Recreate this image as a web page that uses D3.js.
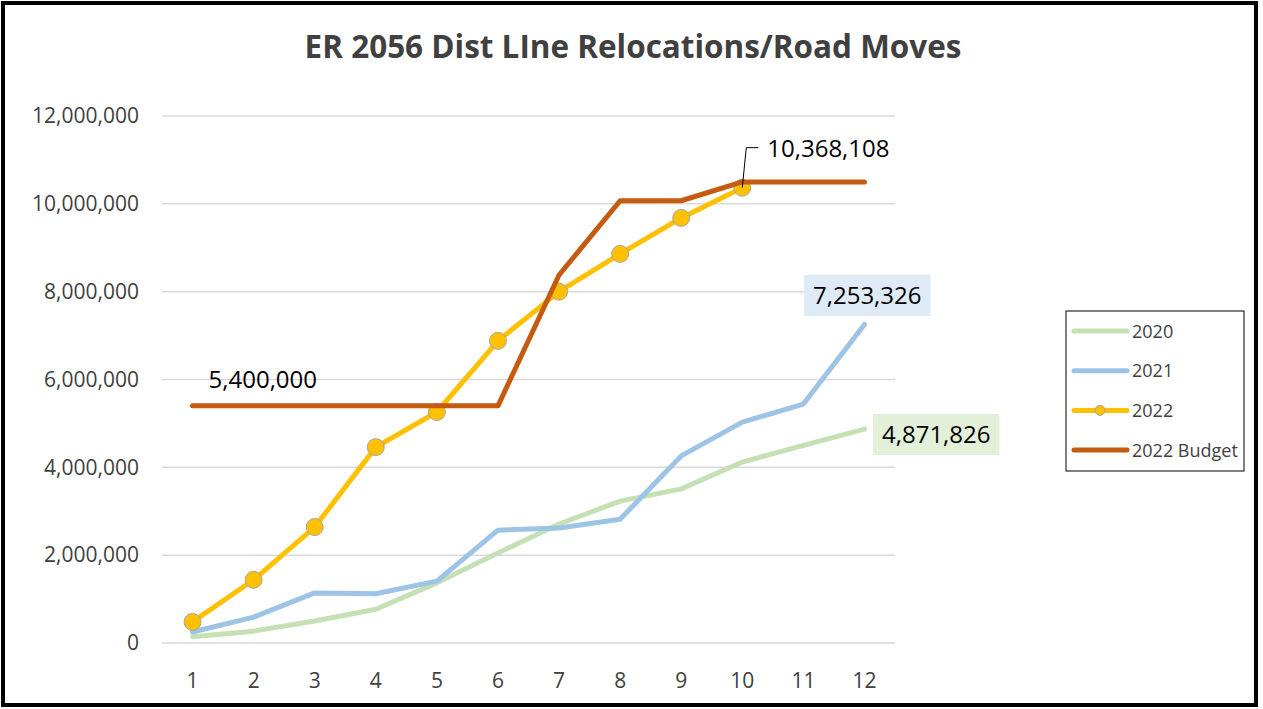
<!DOCTYPE html>
<html>
<head>
<meta charset="utf-8">
<script src="https://cdn.jsdelivr.net/npm/d3@7"></script>
<style>
  body { margin: 0; background: #fff; }
  svg { display: block; }
  text { font-family: "Open Sans", "Noto Sans", sans-serif; }
</style>
</head>
<body>
<svg width="1263" height="709"></svg>
<script>
const months = [1, 2, 3, 4, 5, 6, 7, 8, 9, 10, 11, 12];
const yTicks = [0, 2000000, 4000000, 6000000, 8000000, 10000000, 12000000];
const v2020 = [140000, 270000, 500000, 770000, 1370000, 2050000, 2710000, 3230000, 3510000, 4120000, 4500000, 4871826];
const v2021 = [250000, 590000, 1140000, 1120000, 1410000, 2570000, 2620000, 2820000, 4260000, 5030000, 5440000, 7253326];
const v2022 = [480000, 1440000, 2640000, 4460000, 5260000, 6880000, 8000000, 8860000, 9680000, 10368108];
const vBudget = [5400000, 5400000, 5400000, 5400000, 5400000, 5400000, 8380000, 10070000, 10070000, 10500000, 10500000, 10500000];
const seriesNames = ["2020", "2021", "2022", "2022 Budget"];
const colors = { "2020": "#C5E0B4", "2021": "#9DC3E6", "2022": "#FFC000", "2022 Budget": "#C55A11" };

const svg = d3.select("svg");
const fmt = d3.format(",");

// frame
svg.append("rect").attr("x", 3).attr("y", 3).attr("width", 1253).attr("height", 702)
  .attr("fill", "#fff").attr("stroke", "#000").attr("stroke-width", 4);

// title, scaled to the width it has in the picture
const title = svg.append("text").attr("x", 633).attr("y", 58).attr("text-anchor", "middle")
  .attr("font-weight", "bold").attr("font-size", 28).attr("fill", "#404040")
  .text("ER 2056 Dist LIne Relocations/Road Moves");
const tw = title.node().getComputedTextLength();
title.attr("font-size", 28 * 657 / tw);

const xScale = d3.scaleBand().domain(months).range([162, 895]);
const yScale = d3.scaleLinear().domain([0, 12000000]).range([643, 116]);
const cx = d => xScale(d) + xScale.bandwidth() / 2;

// gridlines
svg.append("g").selectAll("line").data(yTicks).join("line")
  .attr("x1", 162).attr("x2", 895)
  .attr("y1", d => yScale(d)).attr("y2", d => yScale(d))
  .attr("stroke", "#D9D9D9").attr("stroke-width", 1.5);

// y axis
const yAxis = svg.append("g").attr("transform", "translate(139,0)")
  .call(d3.axisLeft(yScale).tickValues(yTicks).tickFormat(fmt).tickSize(0).tickPadding(0));
yAxis.select(".domain").remove();
yAxis.selectAll("text").attr("font-size", 21).attr("fill", "#404040")
  .attr("font-family", "'Open Sans', sans-serif");

// x axis
const xAxis = svg.append("g").attr("transform", "translate(0,669)")
  .call(d3.axisBottom(xScale).tickSize(0).tickPadding(0));
xAxis.select(".domain").remove();
xAxis.selectAll("text").attr("font-size", 21).attr("fill", "#404040").attr("dy", "0.9em")
  .attr("font-family", "'Open Sans', sans-serif");

const line = d3.line().x((d, i) => cx(months[i])).y(d => yScale(d));

const drawLine = (vals, name) => {
  svg.append("path").datum(vals).attr("d", line)
    .attr("fill", "none").attr("stroke", colors[name]).attr("stroke-width", 5)
    .attr("stroke-linejoin", "round").attr("stroke-linecap", "round");
};

drawLine(v2020, "2020");
drawLine(v2021, "2021");
drawLine(v2022, "2022");
svg.append("g").selectAll("circle").data(v2022).join("circle")
  .attr("cx", (d, i) => cx(months[i])).attr("cy", d => yScale(d)).attr("r", 8.5)
  .attr("fill", "#FFC000").attr("stroke", "#A5A5A5").attr("stroke-width", 1);
drawLine(vBudget, "2022 Budget");

// data labels
svg.append("text").attr("x", cx(1) + 16).attr("y", yScale(5400000) - 18)
  .attr("font-size", 24).attr("fill", "#000").text(fmt(5400000));

const last22 = v2022[v2022.length - 1];
const lx = cx(10), ly = yScale(last22);
svg.append("path").attr("d", `M${lx},${ly} L${lx + 4},${ly - 40} L${lx + 16},${ly - 40}`)
  .attr("fill", "none").attr("stroke", "#000").attr("stroke-width", 1);
svg.append("text").attr("x", lx + 25).attr("y", ly - 31)
  .attr("font-size", 24).attr("fill", "#000").text(fmt(last22));

const boxLabel = (val, x, y, bg) => {
  const g = svg.append("g");
  const t = g.append("text").attr("x", x + 9).attr("y", y + 29)
    .attr("font-size", 24).attr("fill", "#000").text(fmt(val));
  const w = t.node().getComputedTextLength();
  g.insert("rect", "text").attr("x", x).attr("y", y).attr("width", w + 18).attr("height", 41).attr("fill", bg);
};
boxLabel(v2021[11], 804, 275, "#DEEBF7");
boxLabel(v2020[11], 873, 414, "#E2F0D9");

// legend
const legend = svg.append("g");
legend.append("rect").attr("x", 1066).attr("y", 311).attr("width", 178).attr("height", 160)
  .attr("fill", "#fff").attr("stroke", "#000").attr("stroke-width", 1);
const items = legend.selectAll("g.item").data(seriesNames).join("g")
  .attr("transform", (d, i) => `translate(0,${331 + i * 39.7})`);
items.append("line").attr("x1", 1074).attr("x2", 1127).attr("y1", 0).attr("y2", 0)
  .attr("stroke", d => colors[d]).attr("stroke-width", 5).attr("stroke-linecap", "round");
items.filter(d => d === "2022").append("circle").attr("cx", 1100).attr("cy", 0).attr("r", 5)
  .attr("fill", "#FFC000").attr("stroke", "#A5A5A5");
items.append("text").attr("x", 1132).attr("y", 6.5).attr("font-size", 18).attr("fill", "#404040").text(d => d);
</script>
</body>
</html>
